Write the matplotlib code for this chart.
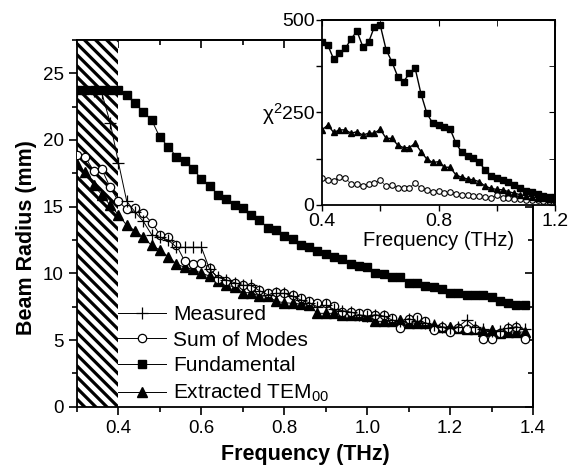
import matplotlib
matplotlib.use("Agg")
import matplotlib.pyplot as plt
from matplotlib.ticker import MultipleLocator

# ---- main plot data (THz, mm) ----
freq = [0.30, 0.32, 0.34, 0.36, 0.38, 0.40, 0.42, 0.44, 0.46, 0.48,
        0.50, 0.52, 0.54, 0.56, 0.58, 0.60, 0.62, 0.64, 0.66, 0.68,
        0.70, 0.72, 0.74, 0.76, 0.78, 0.80, 0.82, 0.84, 0.86, 0.88,
        0.90, 0.92, 0.94, 0.96, 0.98, 1.00, 1.02, 1.04, 1.06, 1.08,
        1.10, 1.12, 1.14, 1.16, 1.18, 1.20, 1.22, 1.24, 1.26, 1.28,
        1.30, 1.32, 1.34, 1.36, 1.38]

measured = [23.7, 23.7, 23.7, 23.5, 21.3, 18.3, 15.4, 14.6, 13.9, 12.9,
            12.7, 12.5, 11.95, 11.95, 11.95, 11.95, 10.3, 9.7, 9.5, 9.3,
            9.1, 9.1, 8.7, 8.4, 8.5, 8.5, 8.3, 8.0, 7.8, 7.5,
            7.6, 7.3, 7.2, 7.1, 6.9, 6.8, 6.9, 6.8, 6.5, 6.4,
            6.6, 6.4, 6.3, 6.1, 6.0, 5.9, 6.0, 6.5, 6.0, 5.8,
            5.7, 5.7, 5.9, 6.0, 5.8]

sum_modes = [18.9, 18.7, 17.7, 17.8, 16.45, 15.4, 14.8, 14.9, 14.5, 13.8,
             12.9, 12.7, 12.1, 10.9, 10.7, 10.8, 10.4, 9.6, 9.45, 9.3,
             9.1, 9.0, 8.75, 8.55, 8.6, 8.5, 8.4, 8.15, 7.9, 7.8,
             7.75, 7.55, 7.1, 7.1, 7.0, 7.0, 6.9, 6.9, 6.65, 5.9,
             6.55, 6.7, 6.45, 5.75, 6.0, 5.6, 5.9, 5.8, 5.8, 5.05,
             5.05, 5.5, 5.9, 6.0, 5.05]

fundamental = [23.75, 23.75, 23.75, 23.75, 23.75, 23.75, 23.4, 22.8, 22.1, 21.5,
               20.2, 19.5, 18.75, 18.4, 17.8, 17.1, 16.55, 15.9, 15.6, 15.1,
               14.9, 14.4, 14.0, 13.4, 13.25, 12.8, 12.6, 12.1, 11.95, 11.7,
               11.45, 11.25, 11.05, 10.7, 10.55, 10.5, 10.0, 9.95, 9.75, 9.75,
               9.25, 9.3, 9.05, 9.0, 8.8, 8.55, 8.5, 8.4, 8.4, 8.4,
               8.2, 7.9, 7.8, 7.6, 7.6]

extracted = [18.2, 17.6, 16.6, 15.9, 15.1, 14.4, 13.6, 13.2, 12.7, 12.1,
             11.75, 11.25, 10.7, 10.45, 10.3, 10.0, 9.8, 9.4, 9.1, 9.0,
             8.55, 8.55, 8.3, 8.3, 7.9, 7.8, 7.75, 7.7, 7.6, 7.0,
             7.0, 7.0, 6.9, 6.9, 6.85, 6.8, 6.4, 6.4, 6.4, 6.5,
             6.3, 6.25, 6.3, 6.1, 6.0, 6.0, 5.9, 5.8, 5.8, 5.7,
             5.75, 5.5, 5.6, 5.6, 5.6]

# ---- inset data (chi^2) ----
freq_in = [0.40, 0.42, 0.44, 0.46, 0.48, 0.50, 0.52, 0.54, 0.56, 0.58,
           0.60, 0.62, 0.64, 0.66, 0.68, 0.70, 0.72, 0.74, 0.76, 0.78,
           0.80, 0.82, 0.84, 0.86, 0.88, 0.90, 0.92, 0.94, 0.96, 0.98,
           1.00, 1.02, 1.04, 1.06, 1.08, 1.10, 1.12, 1.14, 1.16, 1.18, 1.20]

chi_fund = [441, 432, 394, 410, 423, 449, 470, 428, 440, 482,
            486, 420, 387, 347, 333, 356, 369, 300, 248, 221,
            216, 212, 205, 167, 142, 132, 126, 115, 95, 78,
            72, 68, 63, 55, 45, 38, 34, 30, 25, 22, 21]

chi_extr = [203, 216, 196, 203, 203, 194, 198, 189, 194, 194,
            205, 180, 180, 162, 155, 155, 167, 144, 124, 115,
            117, 102, 102, 81, 75, 70, 68, 63, 51, 45,
            42, 41, 36, 32, 28, 25, 22, 20, 18, 16, 15]

chi_sum = [72, 68, 65, 77, 74, 56, 56, 50, 56, 59,
           68, 50, 54, 47, 47, 47, 59, 45, 41, 36,
           38, 32, 36, 30, 27, 27, 24, 23, 22, 18,
           27, 18, 18, 17, 16, 14, 14, 13, 12, 12, 12]

plt.rcParams['font.family'] = ['Liberation Sans', 'DejaVu Sans']
plt.rcParams['mathtext.fontset'] = 'custom'
plt.rcParams['mathtext.rm'] = 'Liberation Sans'
plt.rcParams['mathtext.it'] = 'Liberation Sans:italic'
plt.rcParams['hatch.linewidth'] = 2.3
plt.rcParams['axes.linewidth'] = 1.3

fig = plt.figure(figsize=(5.86, 4.66), dpi=100)
ax = fig.add_axes([0.1314, 0.1273, 0.7782, 0.7869])

# hatched low-frequency region
ax.axvspan(0.3, 0.4, facecolor='white', edgecolor='black', hatch='\\\\\\',
           linewidth=0, zorder=1)

ax.plot(freq, extracted, '-', color='black', lw=0.7, marker='^', ms=6.5,
        mfc='black', mec='black', label='Extracted TEM$_{00}$', zorder=3)
ax.plot(freq, fundamental, '-', color='black', lw=0.7, marker='s', ms=5.8,
        mfc='black', mec='black', label='Fundamental', zorder=3)
ax.plot(freq, sum_modes, '-', color='black', lw=0.7, marker='o', ms=6,
        mfc='white', mec='black', mew=0.9, label='Sum of Modes', zorder=4)
ax.plot(freq, measured, '-', color='black', lw=0.7, marker='+', ms=8,
        mew=0.9, label='Measured', zorder=5)

ax.set_xlim(0.3, 1.4)
ax.set_ylim(0, 27.5)
ax.set_xticks([0.4, 0.6, 0.8, 1.0, 1.2, 1.4])
ax.xaxis.set_minor_locator(MultipleLocator(0.1))
ax.yaxis.set_major_locator(MultipleLocator(5))
ax.yaxis.set_minor_locator(MultipleLocator(2.5))
ax.tick_params(which='both', direction='out', top=False, right=False,
               labelsize=13.5, width=1.2)
ax.tick_params(which='major', length=6)
ax.tick_params(which='minor', length=3.5)

secx = ax.secondary_xaxis('top')
secx.set_xticks([0.4, 0.6, 0.8, 1.0, 1.2, 1.4])
secx.xaxis.set_minor_locator(MultipleLocator(0.1))
secx.tick_params(which='both', direction='in', labeltop=False, width=1.2)
secx.tick_params(which='major', length=6)
secx.tick_params(which='minor', length=3.5)
secy = ax.secondary_yaxis('right')
secy.yaxis.set_major_locator(MultipleLocator(5))
secy.yaxis.set_minor_locator(MultipleLocator(2.5))
secy.tick_params(which='both', direction='in', labelright=False, width=1.2)
secy.tick_params(which='major', length=6)
secy.tick_params(which='minor', length=3.5)

ax.set_xlabel('Frequency (THz)', fontsize=15.5, fontweight='bold', labelpad=5)
ax.set_ylabel('Beam Radius (mm)', fontsize=15.5, fontweight='bold')
ax.yaxis.set_label_coords(-0.088, 0.46)

handles, labels = ax.get_legend_handles_labels()
order = [3, 2, 1, 0]
ax.legend([handles[i] for i in order], [labels[i] for i in order],
          loc='center left', bbox_to_anchor=(0.09, 0.142), frameon=False,
          fontsize=15, handlelength=2.3, handletextpad=0.35,
          labelspacing=0.32, borderpad=0, borderaxespad=0, numpoints=1)

# ---- inset ----
axin = fig.add_axes([0.5495, 0.5601, 0.3976, 0.397])
axin.plot(freq_in, chi_sum, '-', color='black', lw=0.4, marker='o', ms=4,
          mfc='white', mec='black', mew=0.8)
axin.plot(freq_in, chi_extr, '-', color='black', lw=1.0, marker='^', ms=4.5,
          mfc='black', mec='black')
axin.plot(freq_in, chi_fund, '-', color='black', lw=1.0, marker='s', ms=3.8,
          mfc='black', mec='black')
axin.set_xlim(0.4, 1.2)
axin.set_ylim(0, 500)
axin.set_xticks([0.4, 0.8, 1.2])
axin.set_xticklabels(['0.4', '0.8', '1.2'])
axin.xaxis.set_minor_locator(MultipleLocator(0.2))
axin.set_yticks([0, 250, 500])
axin.yaxis.set_minor_locator(MultipleLocator(125))
axin.tick_params(which='both', direction='out', labelsize=14, width=1.0,
                 pad=1.5, length=4)
inx = axin.secondary_xaxis('top')
inx.set_xticks([0.4, 0.8, 1.2])
inx.xaxis.set_minor_locator(MultipleLocator(0.2))
inx.tick_params(which='both', direction='in', labeltop=False, length=4)
iny = axin.secondary_yaxis('right')
iny.set_yticks([0, 250, 500])
iny.yaxis.set_minor_locator(MultipleLocator(125))
iny.tick_params(which='both', direction='in', labelright=False, length=4)
axin.set_xlabel('Frequency (THz)', fontsize=14.5, labelpad=1)

fig.text(283 / 586, 1 - 114 / 466, 'χ$^2$', ha='right', va='center',
         fontsize=15)

fig.savefig('out.png', dpi=100)
